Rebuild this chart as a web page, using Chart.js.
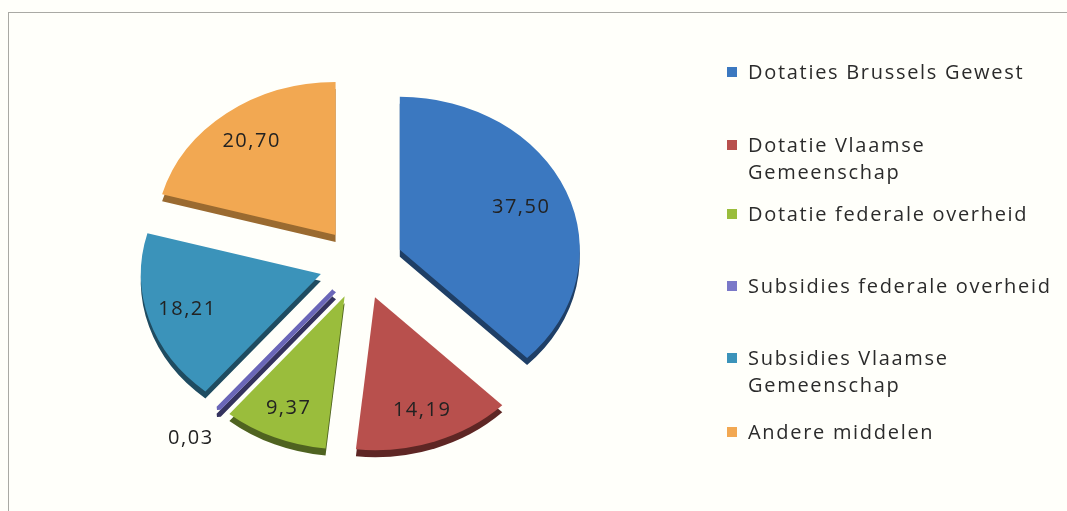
<!DOCTYPE html>
<html>
<head>
<meta charset="utf-8">
<script src="https://cdn.jsdelivr.net/npm/chart.js@4.4.1/dist/chart.umd.min.js"></script>
<style>
  html, body { margin: 0; padding: 0; background: #fffffa; }
  #wrap { position: relative; width: 1067px; height: 511px; overflow: hidden; }
  #frame { position: absolute; left: 8px; top: 12px; width: 1100px; height: 520px;
           border: 1px solid #a9a9a4; }
  #pie { position: absolute; left: 0; top: 0; }
  #legend { position: absolute; left: 726px; top: 58px; margin: 0; padding: 0; list-style: none;
            font-family: "Open Sans", sans-serif; font-size: 20px; letter-spacing: 1.7px; color: #2b2b2b; }
  #legend li { position: relative; height: 72px; padding-left: 22px; line-height: 27px; white-space: nowrap; }
  #legend li:nth-child(1) { height: 73px; }
  #legend li:nth-child(2) { height: 69px; }
  #legend li:nth-child(5) { height: 74px; }
  #legend li span { position: absolute; left: 1px; top: 9px; width: 10px; height: 10px; }
</style>
</head>
<body>
<div id="wrap">
  <div id="frame"></div>
  <canvas id="pie" width="1067" height="511"></canvas>
  <ul id="legend"></ul>
</div>
<script>
// bronnen (in %)
const labels = [
  "Dotaties Brussels Gewest",
  "Dotatie Vlaamse Gemeenschap",
  "Dotatie federale overheid",
  "Subsidies federale overheid",
  "Subsidies Vlaamse Gemeenschap",
  "Andere middelen"
];
const legendLines = [
  ["Dotaties Brussels Gewest"],
  ["Dotatie Vlaamse", "Gemeenschap"],
  ["Dotatie federale overheid"],
  ["Subsidies federale overheid"],
  ["Subsidies Vlaamse", "Gemeenschap"],
  ["Andere middelen"]
];
const values = [37.50, 14.19, 9.37, 0.03, 18.21, 20.70];
const colors = ["#3b78c0", "#b8504d", "#9abd3c", "#6a66b8", "#3b93ba", "#f2a852"];
const sideColors = ["#1f3f66", "#5e2624", "#4f6320", "#34325e", "#1f4c61", "#9a6a30"];
const legendColors = ["#3b78c0", "#b8504d", "#9abd3c", "#7a78c8", "#3b93ba", "#f2a852"];

const TILT = 0.85;   // pie seen a bit from above
const EXPLODE = 42;  // px each slice is pulled out

// legend
const ul = document.getElementById("legend");
legendLines.forEach((lines, i) => {
  const li = document.createElement("li");
  const sw = document.createElement("span");
  sw.style.background = legendColors[i];
  li.appendChild(sw);
  li.appendChild(document.createTextNode(lines[0]));
  for (let k = 1; k < lines.length; k++) {
    li.appendChild(document.createElement("br"));
    li.appendChild(document.createTextNode(lines[k]));
  }
  ul.appendChild(li);
});

// draws the arcs tilted and pulled apart, with a darker edge below
const explodePlugin = {
  id: "explode3d",
  beforeDatasetsDraw(chart) {
    const ctx = chart.ctx;
    const a = chart.chartArea;
    const cy = (a.top + a.bottom) / 2;
    const meta = chart.getDatasetMeta(0);
    ctx.save();
    ctx.translate(0, cy);
    ctx.scale(1, TILT);
    ctx.translate(0, -cy);
    meta.data.forEach((arc, i) => {
      const mid = (arc.startAngle + arc.endAngle) / 2;
      ctx.save();
      ctx.translate(Math.cos(mid) * EXPLODE, Math.sin(mid) * EXPLODE);
      ctx.shadowColor = sideColors[i];
      ctx.shadowOffsetY = 7;
      ctx.shadowBlur = 0;
      arc.draw(ctx);
      ctx.restore();
    });
    ctx.restore();
    return false;
  }
};

const labelPlugin = {
  id: "sliceLabels",
  afterDraw(chart) {
    const ctx = chart.ctx;
    const a = chart.chartArea;
    const cy = (a.top + a.bottom) / 2;
    const meta = chart.getDatasetMeta(0);
    ctx.save();
    ctx.font = "20px 'Open Sans', sans-serif";
    ctx.letterSpacing = "1.5px";
    ctx.fillStyle = "#222";
    ctx.textAlign = "center";
    ctx.textBaseline = "middle";
    meta.data.forEach((arc, i) => {
      const mid = (arc.startAngle + arc.endAngle) / 2;
      const circ = arc.endAngle - arc.startAngle;
      const tiny = values[i] < 1;
      const f = tiny ? 1.12 : 0.7 + 0.12 * (1 - circ / Math.PI);
      const r = arc.outerRadius * f + EXPLODE;
      let x = arc.x + Math.cos(mid) * r;
      let y = arc.y + Math.sin(mid) * r;
      y = cy + (y - cy) * TILT;
      if (tiny) { x -= 14; y += 16; }
      ctx.fillText(values[i].toFixed(2).replace(".", ","), x, y);
    });
    ctx.restore();
  }
};

new Chart(document.getElementById("pie"), {
  type: "pie",
  data: {
    labels: labels,
    datasets: [{
      data: values,
      backgroundColor: colors,
      borderColor: colors,
      borderWidth: [0, 0, 0, 5, 0, 0]
    }]
  },
  options: {
    responsive: false,
    animation: false,
    radius: 180,
    layout: { padding: { left: 0, right: 345, top: 16, bottom: 0 } },
    plugins: {
      legend: { display: false },
      tooltip: { enabled: false }
    }
  },
  plugins: [explodePlugin, labelPlugin]
});
</script>
</body>
</html>
